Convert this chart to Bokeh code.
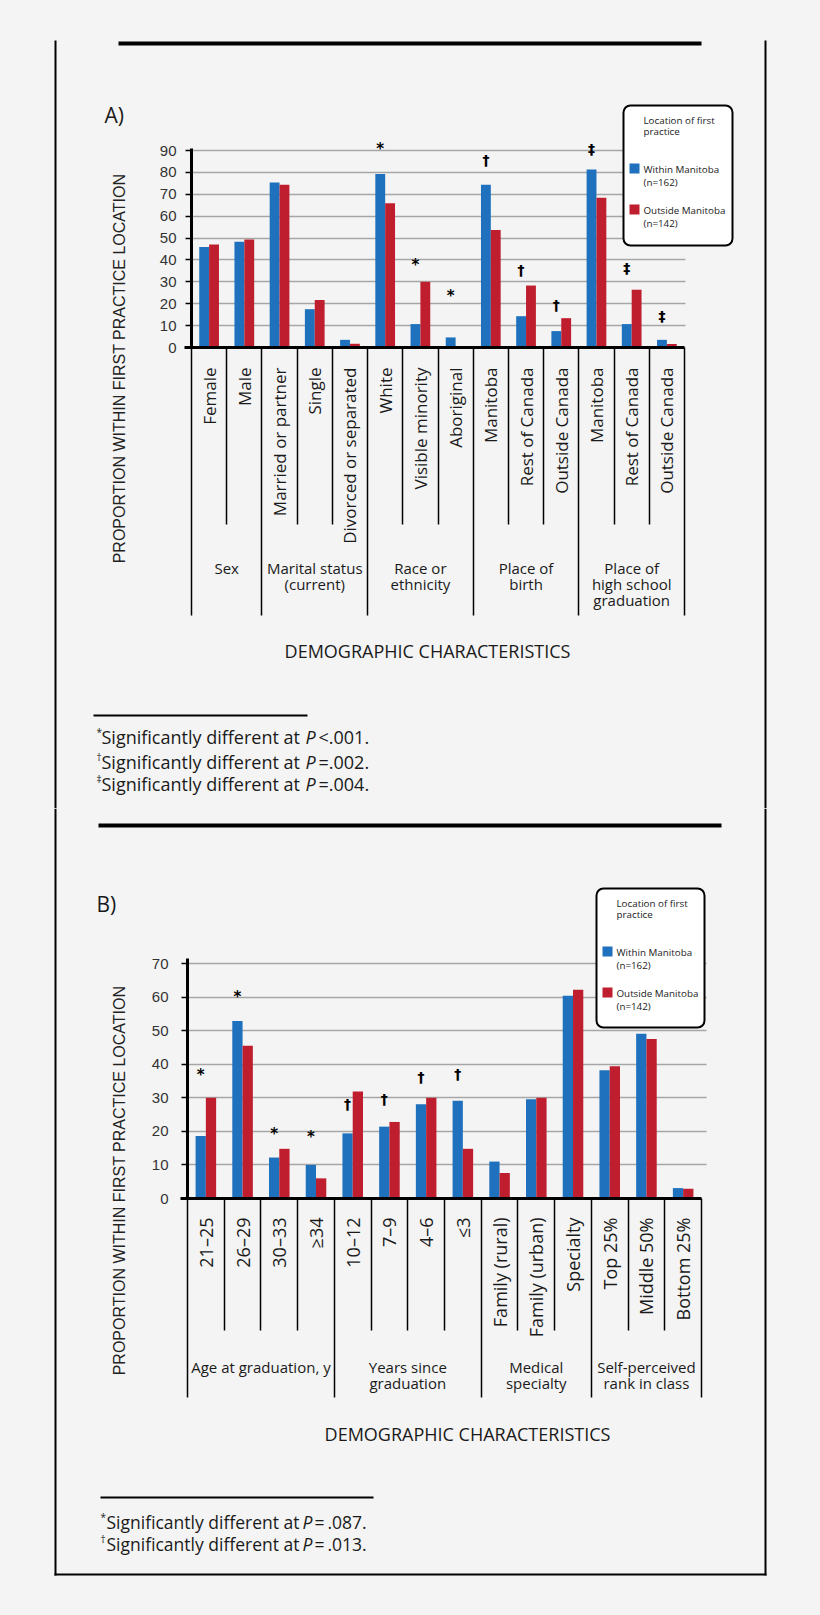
import math
from bokeh.plotting import figure
from bokeh.models import (ColumnDataSource, Range1d, FixedTicker, LinearAxis, Grid,
                          Label, LabelSet, BoxAnnotation)
from bokeh.core.properties import value
from bokeh.transform import dodge
from bokeh.layouts import column
from bokeh.embed import file_html
from bokeh.resources import INLINE

# ---------------- data: panel A ----------------
A_groups = ["Sex", "Marital status\n(current)", "Race or\nethnicity", "Place of\nbirth",
            "Place of\nhigh school\ngraduation"]
A_group_sizes = [2, 3, 3, 3, 3]
A_labels = ["Female", "Male", "Married or partner", "Single", "Divorced or separated",
            "White", "Visible minority", "Aboriginal", "Manitoba", "Rest of Canada",
            "Outside Canada", "Manitoba", "Rest of Canada", "Outside Canada"]
A_within = [45.9, 48.3, 75.4, 17.5, 3.5, 79.3, 10.7, 4.6, 74.4, 14.3, 7.5, 81.3, 10.7, 3.5]
A_outside = [47.0, 49.3, 74.4, 21.7, 1.7, 65.9, 30.0, 0.0, 53.7, 28.3, 13.4, 68.4, 26.4, 1.6]
A_sig = ["", "", "", "", "", "*", "*", "*", "\u2020", "\u2020", "\u2020", "\u2021", "\u2021", "\u2021"]
A_sig_y = [None, None, None, None, None, 92.1, 38.9, 24.9, 85.7, 35.4, 19.3, 90.7, 36.5, 14.5]
A_yticks = [0, 10, 20, 30, 40, 50, 60, 70, 80, 90]
A_notes = [("*", "<.001."), ("\u2020", "=.002."), ("\u2021", "=.004.")]

# ---------------- data: panel B ----------------
B_groups = ["Age at graduation, y", "Years since\ngraduation", "Medical\nspecialty",
            "Self-perceived\nrank in class"]
B_group_sizes = [4, 4, 3, 3]
B_labels = ["21\u201325", "26\u201329", "30\u201333", "\u226534", "10\u201312", "7\u20139",
            "4\u20136", "\u22643", "Family (rural)", "Family (urban)", "Specialty",
            "Top 25%", "Middle 50%", "Bottom 25%"]
B_within = [18.6, 52.9, 12.2, 10.0, 19.4, 21.4, 28.1, 29.1, 11.0, 29.6, 60.4, 38.2, 49.1, 3.1]
B_outside = [30.0, 45.5, 14.8, 6.0, 31.9, 22.8, 30.0, 14.8, 7.6, 30.0, 62.2, 39.4, 47.5, 2.9]
B_sig = ["*", "*", "*", "*", "\u2020", "\u2020", "\u2020", "\u2020", "", "", "", "", "", ""]
B_sig_y = [37.6, 60.9, 20.2, 19.3, 28.1, 29.6, 36.2, 37.0, None, None, None, None, None, None]
B_yticks = [0, 10, 20, 30, 40, 50, 60, 70]
B_notes = [("*", "=\u2009.087."), ("\u2020", "=\u2009.013.")]

SERIES = ["Within Manitoba", "Outside Manitoba"]
SERIES_N = ["(n=162)", "(n=142)"]
LEGEND_TITLE = ["Location of first", "practice"]
Y_TITLE = "PROPORTION WITHIN FIRST PRACTICE LOCATION"
X_TITLE = "DEMOGRAPHIC CHARACTERISTICS"
NOTE_TEXT = "Significantly different at"

# ---------------- style ----------------
BG = "#f4f4f4"
BLUE = "#1f71bd"
RED = "#bf1e2e"
HUM = "Open Sans"
ARI = "Liberation Sans"
INK = "#1a1a1a"
W = 820


class Geo:
    """Maps page pixels of one panel onto that panel's data coordinates."""
    def __init__(self, n, x_px, y_px, top, H):
        self.x0p, x1p = x_px
        self.y0p, yvp, yv = y_px
        self.kx = (x1p - self.x0p) / n
        self.ky = (self.y0p - yvp) / yv
        self.top, self.H = top, H

    def X(self, px):
        return (px - self.x0p) / self.kx

    def Y(self, py):
        return (self.y0p - py) / self.ky


def txt(p, g, x, y, s, font=HUM, size="15px", align="left", angle=0.0,
        style="normal", color=INK):
    p.add_layout(Label(x=g.X(x), y=g.Y(y), text=s, text_font=font, text_font_size=size,
                       text_align=align, text_baseline="middle", angle=angle,
                       text_font_style=style, text_color=color))


def rect(p, g, x0, y0, x1, y1, fill="black", line=None, lw=0, radius=0):
    p.add_layout(BoxAnnotation(left=g.X(x0), right=g.X(x1), top=g.Y(y0), bottom=g.Y(y1),
                               fill_color=fill, fill_alpha=1.0,
                               line_color=line, line_width=lw, line_alpha=1.0,
                               border_radius=radius, level="annotation"))


def legend(p, g, x0, y0, x1, y1):
    rect(p, g, x0, y0, x1, y1, fill="white", line="black", lw=2, radius=7)
    fs = "9.8px"
    txt(p, g, x0 + 20, y0 + 15, LEGEND_TITLE[0], size=fs)
    txt(p, g, x0 + 20, y0 + 26, LEGEND_TITLE[1], size=fs)
    for k, (col, dy) in enumerate(((BLUE, 58), (RED, 99))):
        rect(p, g, x0 + 6, y0 + dy, x0 + 16, y0 + dy + 10, fill=col)
        txt(p, g, x0 + 20, y0 + dy + 6, SERIES[k], size=fs)
        txt(p, g, x0 + 20, y0 + dy + 19, SERIES_N[k], size=fs)


def panel(cfg):
    top, H = cfg["top"], cfg["H"]
    labels = cfg["labels"]
    n = len(labels)
    g = Geo(n, cfg["x_px"], cfg["y_px"], top, H)
    xr = Range1d(g.X(0), g.X(W))
    yr = Range1d(g.Y(top + H), g.Y(top))
    xc = [i + 0.5 for i in range(n)]   # slot centres

    p = figure(width=W, height=H, x_range=xr, y_range=yr,
               output_backend="svg", toolbar_location=None,
               x_axis_location=None, y_axis_location=None,
               min_border=0, min_border_left=0, min_border_right=0,
               min_border_top=0, min_border_bottom=0,
               background_fill_color=BG, border_fill_color=BG, outline_line_color=None)
    for gr in p.grid:
        gr.visible = False

    # horizontal gridlines limited to the chart area
    p.add_layout(Grid(dimension=1, ticker=FixedTicker(ticks=cfg["yticks"][1:]),
                      cross_bounds=(0, n + cfg["grid_ext"]), grid_line_color="#a6a6a6",
                      grid_line_width=1.5))

    src = ColumnDataSource(dict(x=xc, within=cfg["within"], outside=cfg["outside"]))
    p.vbar(x=dodge("x", -0.14), top="within", width=0.28, source=src,
           fill_color=BLUE, line_color=None)
    p.vbar(x=dodge("x", 0.14), top="outside", width=0.28, source=src,
           fill_color=RED, line_color=None)

    ya = LinearAxis(fixed_location=0, bounds=(0, g.Y(cfg["axis_top"])),
                    ticker=FixedTicker(ticks=cfg["yticks"]),
                    axis_line_width=3, axis_line_color="black",
                    major_tick_out=6, major_tick_in=0, major_tick_line_width=1.5,
                    minor_tick_line_color=None,
                    major_label_text_font=ARI, major_label_text_font_size="15px",
                    major_label_text_color="#333333", major_label_standoff=cfg["standoff"])
    p.add_layout(ya, "left")

    # x axis: its ticks sit on the slot boundaries and form the category separators
    gb = [0]
    for s in cfg["sizes"]:
        gb.append(gb[-1] + s)
    inner = [i for i in range(1, n) if i not in gb]
    xa = LinearAxis(fixed_location=0, bounds=(-0.2, n),
                    ticker=FixedTicker(ticks=gb, minor_ticks=inner),
                    major_tick_in=0, major_tick_out=cfg["grp_line"] - g.y0p,
                    minor_tick_in=0, minor_tick_out=cfg["inner_line"] - g.y0p,
                    major_tick_line_width=1.5, minor_tick_line_width=1.5,
                    major_tick_line_color="black", minor_tick_line_color="black",
                    axis_line_width=3, axis_line_color="black",
                    major_label_text_font_size="0px", major_label_text_alpha=0)
    p.add_layout(xa, "below")

    # rotated category labels
    lsrc = ColumnDataSource(dict(x=xc, text=labels))
    p.add_layout(LabelSet(x="x", y=g.Y(cfg["lab_top"]), text="text", source=lsrc,
                          angle=math.pi / 2, text_align="right",
                          text_baseline="middle", text_font=value(HUM),
                          text_font_size=cfg["lab_size"], text_color=INK))

    # significance markers
    for syms, yoff, fs in ((["*"], -3, "15px"), (["\u2020", "\u2021"], 0, "14px")):
        idx = [i for i, s in enumerate(cfg["sig"]) if s in syms]
        if not idx:
            continue
        ms = ColumnDataSource(dict(x=[xc[i] for i in idx],
                                   y=[cfg["sig_y"][i] for i in idx],
                                   text=[cfg["sig"][i] for i in idx]))
        p.add_layout(LabelSet(x=dodge("x", -0.14), y="y", text="text", source=ms,
                              y_offset=yoff, text_align="center", text_baseline="middle",
                              text_font=value("DejaVu Sans"), text_font_style="bold",
                              text_font_size=fs, text_color="black"))

    # group labels
    start = 0
    for grp, s in zip(cfg["groups"], cfg["sizes"]):
        cx = start + s / 2.0
        for k, line in enumerate(grp.split("\n")):
            p.add_layout(Label(x=cx, y=g.Y(cfg["grp_y0"] + 16 * k), text=line,
                               text_font=HUM, text_font_size="15px", text_align="center",
                               text_baseline="middle", text_color=INK))
        start += s

    # axis titles and panel letter
    txt(p, g, cfg["ylab"][0], cfg["ylab"][1], Y_TITLE, font=ARI, size="16px",
        align="center", angle=math.pi / 2, color="#222222")
    txt(p, g, cfg["xlab"][0], cfg["xlab"][1], X_TITLE, size="18px", align="center")
    txt(p, g, cfg["letter"][0], cfg["letter"][1], cfg["letter"][2], size="21px")

    # rules and frame borders
    rect(p, g, *cfg["rule"])
    rect(p, g, *cfg["note_rule"])
    rect(p, g, 54, cfg["border_top"], 56, cfg["border_bot"])
    rect(p, g, 764, cfg["border_top"], 766, cfg["border_bot"])
    if cfg.get("bottom_border"):
        rect(p, g, 54, 1573, 766, 1575)

    legend(p, g, *cfg["legend"])

    # footnotes
    nx = cfg["note_x"]
    for (sym, tail), y in zip(cfg["notes"], cfg["note_y"]):
        txt(p, g, nx[0], y - 5, sym, size="10px")
        txt(p, g, nx[1], y, NOTE_TEXT, size=cfg["note_size"])
        txt(p, g, nx[2], y, "P", size=cfg["note_size"], style="italic")
        txt(p, g, nx[3], y, tail, size=cfg["note_size"])
    return p


cfgA = dict(top=0, H=808, x_px=(191, 684), y_px=(347, 150, 90), axis_top=148, grid_ext=0.03,
            labels=A_labels, groups=A_groups, sizes=A_group_sizes,
            within=A_within, outside=A_outside, sig=A_sig, sig_y=A_sig_y,
            yticks=A_yticks, standoff=9, lab_top=367, lab_size="17px",
            inner_line=524, grp_line=615, grp_y0=567,
            ylab=(119, 368), xlab=(427, 650), letter=(104, 114, "A)"),
            legend=(623, 105, 732, 245), rule=(118, 41, 701, 45),
            note_rule=(93, 714, 307, 716), border_top=40, border_bot=808,
            notes=A_notes, note_y=[736, 761, 783], note_x=(96, 101, 305, 318),
            note_size="18px")

cfgB = dict(top=808, H=807, x_px=(187, 701), y_px=(1198, 963, 70), axis_top=958, grid_ext=0.13,
            labels=B_labels, groups=B_groups, sizes=B_group_sizes,
            within=B_within, outside=B_outside, sig=B_sig, sig_y=B_sig_y,
            yticks=B_yticks, standoff=13, lab_top=1217, lab_size="18px",
            inner_line=1330, grp_line=1397, grp_y0=1366,
            ylab=(119, 1180), xlab=(467, 1433), letter=(96, 903, "B)"),
            legend=(596, 888, 704, 1027), rule=(98, 823, 721, 827),
            note_rule=(100, 1496, 373, 1498), border_top=808, border_bot=1575,
            bottom_border=True,
            notes=B_notes, note_y=[1521, 1543], note_x=(100, 106, 302, 314),
            note_size="17.5px")

pA = panel(cfgA)
pB = panel(cfgB)
layout = column(pA, pB, spacing=0, styles={"background-color": BG})

PAGE = "{% block postamble %}<style>html, body { background-color: " + BG + "; }</style>{% endblock %}"
open("out.html", "w").write(file_html(layout, INLINE, title="First practice location",
                                      template=PAGE))
